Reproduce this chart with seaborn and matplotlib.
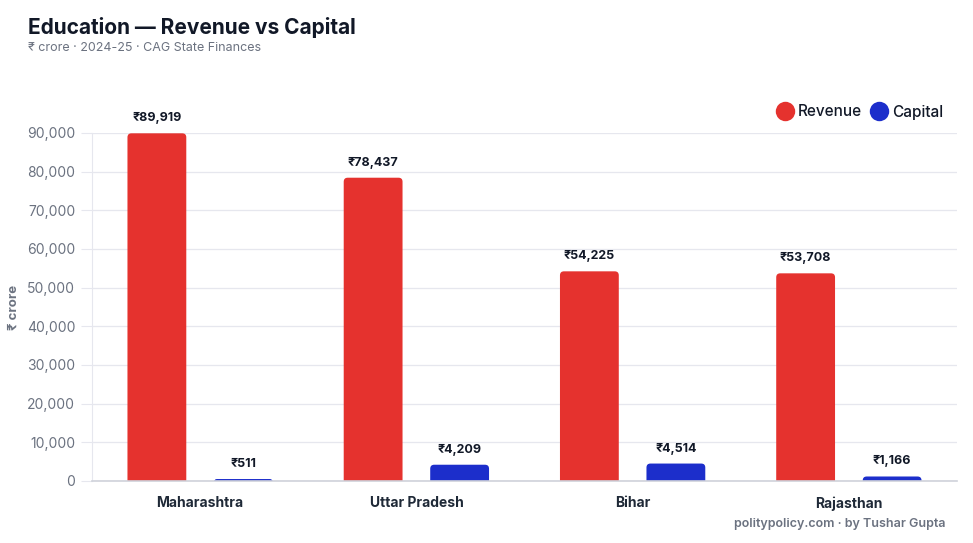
import pandas as pd
import matplotlib
matplotlib.use("Agg")
import matplotlib.pyplot as plt
import seaborn as sns
from matplotlib.patches import FancyBboxPatch
from matplotlib.lines import Line2D

# Données (₹ crore, 2024-25)
states = ["Maharashtra", "Uttar Pradesh", "Bihar", "Rajasthan"]
revenue = [89919, 78437, 54225, 53708]
capital = [511, 4209, 4514, 1166]

RED = "#e5322e"
BLUE = "#1c2ecb"
FONT = ["Inter", "DejaVu Sans"]

df = pd.DataFrame({
    "state": states * 2,
    "type": ["Revenue"] * len(states) + ["Capital"] * len(states),
    "value": revenue + capital,
})

sns.set_style("white")
plt.rcParams["font.family"] = FONT

fig = plt.figure(figsize=(9.73, 5.43), dpi=100)
ax = fig.add_axes([92 / 973, 1 - 481 / 543, 865 / 973, 348 / 543])

sns.barplot(data=df, x="state", y="value", hue="type", order=states,
            hue_order=["Revenue", "Capital"], palette=[RED, BLUE],
            width=0.8, gap=0.32, ax=ax, legend=False, errorbar=None,
            saturation=1)

ax.set_ylim(0, 90000)
ax.set_xlim(-0.5, len(states) - 0.5)

# Arrondir le haut des barres
fig.canvas.draw()
x_per_px = (ax.get_xlim()[1] - ax.get_xlim()[0]) / 865
y_per_px = (ax.get_ylim()[1] - ax.get_ylim()[0]) / 348
aspect = y_per_px / x_per_px
bars = list(ax.patches)
for bar in bars:
    x, w, h = bar.get_x(), bar.get_width(), bar.get_height()
    color = bar.get_facecolor()
    h_px = h / y_per_px
    r_px = 4
    ext_px = r_px
    r_eff = min(r_px, (h_px + ext_px) / 2)
    rb = FancyBboxPatch((x, -ext_px * y_per_px), w, h + ext_px * y_per_px,
                        boxstyle=f"round,pad=0,rounding_size={r_eff * x_per_px}",
                        mutation_aspect=aspect, facecolor=color,
                        edgecolor="none", zorder=2)
    ax.add_patch(rb)
    bar.remove()
    ax.annotate(f"₹{h:,.0f}", (x + w / 2, h), xytext=(0, 6.5),
                textcoords="offset points", ha="center", va="bottom",
                fontsize=9, fontweight="bold", color="#111827",
                annotation_clip=False)

# Axes
ax.grid(axis="y", color="#e6e7ee", linewidth=0.9)
ax.set_axisbelow(True)
ax.set_yticks(range(0, 90001, 10000))
ax.set_yticklabels([f"{v:,}" for v in range(0, 90001, 10000)])
ax.tick_params(axis="y", length=8, color="#e6e7ee", labelsize=10,
               labelcolor="#6b7280", pad=4, left=True)
ax.tick_params(axis="x", length=0, labelsize=10, labelcolor="#1f2937", pad=11)
for lbl in ax.get_xticklabels():
    lbl.set_fontweight("bold")
for side in ["top", "right"]:
    ax.spines[side].set_visible(False)
ax.spines["left"].set_color("#e6e7ee")
ax.spines["bottom"].set_color("#cfd2da")
ax.spines["bottom"].set_linewidth(1.2)
ax.set_xlabel("")
ax.set_ylabel("")

fig.text(14 / 973, 1 - 307 / 543, "₹ crore", rotation=90, ha="center",
         va="center", fontsize=9.5, fontweight="bold", color="#6b7280")

# Titre
fig.text(28 / 973, 1 - 27 / 543, "Education — Revenue vs Capital",
         fontsize=15, fontweight="bold", color="#111827", va="center")
fig.text(28 / 973, 1 - 48 / 543, "₹ crore · 2024-25 · CAG State Finances",
         fontsize=9, color="#6b7280", va="center")
fig.text(945 / 973, 1 - 524 / 543, "politypolicy.com · by Tushar Gupta",
         fontsize=9, fontweight="semibold", color="#6b7280",
         ha="right", va="center")

# Légende
handles = [Line2D([], [], marker="o", linestyle="", markersize=14,
                  markerfacecolor=c, markeredgecolor="none") for c in (RED, BLUE)]
fig.legend(handles, ["Revenue", "Capital"], loc="center right",
           bbox_to_anchor=(957 / 973, 1 - 112 / 543), ncol=2, frameon=False,
           fontsize=11, handletextpad=0.35, columnspacing=0.6,
           labelcolor="#111827", handlelength=1.0,
           prop={"weight": "medium", "size": 11})

fig.savefig("out.png", dpi=100)
